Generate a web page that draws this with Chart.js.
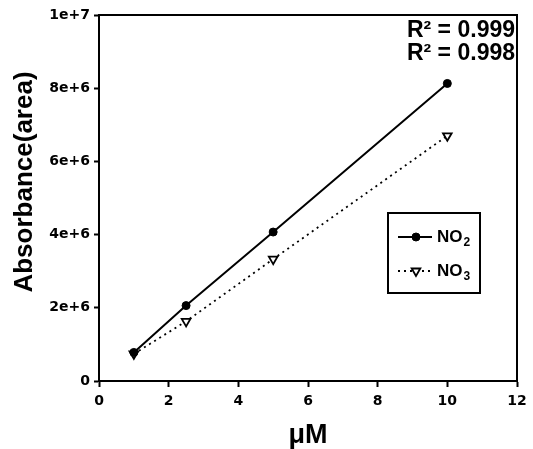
<!DOCTYPE html>
<html>
<head>
<meta charset="utf-8">
<script src="https://cdn.jsdelivr.net/npm/chart.js@4/dist/chart.umd.min.js"></script>
<style>
  html, body { margin: 0; padding: 0; background: #fff; }
  #wrap { position: relative; width: 533px; height: 449px; }
</style>
</head>
<body>
<div id="wrap"><canvas id="c" width="533" height="449"></canvas></div>
<script>
// concentrations (µM) and peak areas
const concentrations = [1, 2.5, 5, 10];
const no2Area = [0.78e6, 2.06e6, 4.07e6, 8.13e6];
const no3Area = [0.74e6, 1.63e6, 3.33e6, 6.70e6];
const seriesNames = ['NO₂', 'NO₃'];
const r2Labels = ['R² = 0.999', 'R² = 0.998'];
const xTicks = [0, 2, 4, 6, 8, 10, 12];
const yTicks = [0, 2e6, 4e6, 6e6, 8e6, 1e7];

const FONT = "'Liberation Sans', Arial, sans-serif";
const TICK_FONT = "'DejaVu Sans', sans-serif";
const pts = ys => concentrations.map((x, i) => ({ x, y: ys[i] }));

// box round the plot, R² notes, y title and the little framed legend
const decor = {
  id: 'decor',
  afterDraw(chart) {
    const { ctx, chartArea: a } = chart;
    ctx.save();
    ctx.strokeStyle = '#000';
    ctx.lineWidth = 2;
    ctx.strokeRect(a.left, a.top, a.right - a.left, a.bottom - a.top);

    ctx.fillStyle = '#000';
    ctx.font = `bold 23px ${FONT}`;
    ctx.textAlign = 'right';
    ctx.textBaseline = 'alphabetic';
    ctx.fillText(r2Labels[0], 515, 37);
    ctx.fillText(r2Labels[1], 515, 60);

    // y title
    ctx.save();
    ctx.translate(25, 182);
    ctx.rotate(-Math.PI / 2);
    ctx.textAlign = 'center';
    ctx.textBaseline = 'middle';
    ctx.font = `bold 26px ${FONT}`;
    ctx.fillText('Absorbance(area)', 0, 0);
    ctx.restore();

    // legend
    ctx.lineWidth = 2;
    ctx.strokeRect(388, 213, 92, 80);
    const rows = [237, 271];
    chart.data.datasets.forEach((ds, i) => {
      const y = rows[i];
      ctx.save();
      ctx.strokeStyle = ds.borderColor;
      ctx.lineWidth = ds.borderWidth;
      ctx.setLineDash(ds.borderDash || []);
      ctx.beginPath();
      ctx.moveTo(398, y);
      ctx.lineTo(432, y);
      ctx.stroke();
      ctx.restore();
      ctx.save();
      ctx.fillStyle = ds.pointBackgroundColor;
      ctx.strokeStyle = '#000';
      ctx.lineWidth = ds.pointBorderWidth;
      Chart.helpers.drawPoint(ctx, {
        pointStyle: ds.pointStyle, rotation: ds.pointRotation,
        radius: ds.pointRadius, borderWidth: ds.pointBorderWidth
      }, 416, y);
      ctx.restore();
      ctx.fillStyle = '#000';
      ctx.textAlign = 'left';
      ctx.textBaseline = 'middle';
      ctx.font = `bold 17px ${FONT}`;
      const base = ds.label.slice(0, 2);
      ctx.fillText(base, 437, y);
      const w = ctx.measureText(base).width;
      ctx.font = `bold 12px ${FONT}`;
      ctx.fillText(ds.label.slice(2) === '₂' ? '2' : '3', 437 + w + 1, y + 6);
    });
    ctx.restore();
  }
};

new Chart(document.getElementById('c'), {
  type: 'line',
  data: {
    datasets: [
      {
        label: seriesNames[0],
        data: pts(no2Area),
        borderColor: '#000',
        borderWidth: 2,
        pointStyle: 'circle',
        pointRadius: 4,
        pointBackgroundColor: '#000',
        pointBorderColor: '#000',
        pointBorderWidth: 1,
        pointRotation: 0,
        tension: 0
      },
      {
        label: seriesNames[1],
        data: pts(no3Area),
        borderColor: '#000',
        borderWidth: 1.8,
        borderDash: [2, 4],
        pointStyle: 'triangle',
        pointRotation: 180,
        pointRadius: 5,
        pointBackgroundColor: '#fff',
        pointBorderColor: '#000',
        pointBorderWidth: 1.8,
        tension: 0
      }
    ]
  },
  options: {
    responsive: false,
    animation: false,
    layout: { padding: { top: 15, right: 16, left: 0, bottom: 0 } },
    plugins: { legend: { display: false }, tooltip: { enabled: false } },
    scales: {
      x: {
        type: 'linear',
        min: 0, max: 12,
        afterBuildTicks: s => { s.ticks = xTicks.map(value => ({ value })); },
        afterFit: s => { s.height = 68; },
        grid: { drawOnChartArea: false, tickLength: 6, tickColor: '#000', tickWidth: 2 },
        border: { color: '#000', width: 2 },
        ticks: { color: '#000', padding: 6, maxRotation: 0, font: { family: TICK_FONT, size: 14, weight: 'bold' } },
        title: {
          display: true, text: 'μM', color: '#000',
          padding: { top: 0, bottom: 0 },
          font: { family: FONT, size: 27, weight: 'bold', lineHeight: 1 }
        }
      },
      y: {
        type: 'linear',
        min: 0, max: 1e7,
        afterBuildTicks: s => { s.ticks = yTicks.map(value => ({ value })); },
        afterFit: s => { s.width = 99; },
        grid: { drawOnChartArea: false, tickLength: 5, tickColor: '#000', tickWidth: 2 },
        border: { color: '#000', width: 2 },
        ticks: {
          color: '#000', padding: 4,
          font: { family: TICK_FONT, size: 14, weight: 'bold' },
          callback: v => v === 0 ? '0' : Number(v).toExponential()
        }
      }
    }
  },
  plugins: [decor]
});
</script>
</body>
</html>
